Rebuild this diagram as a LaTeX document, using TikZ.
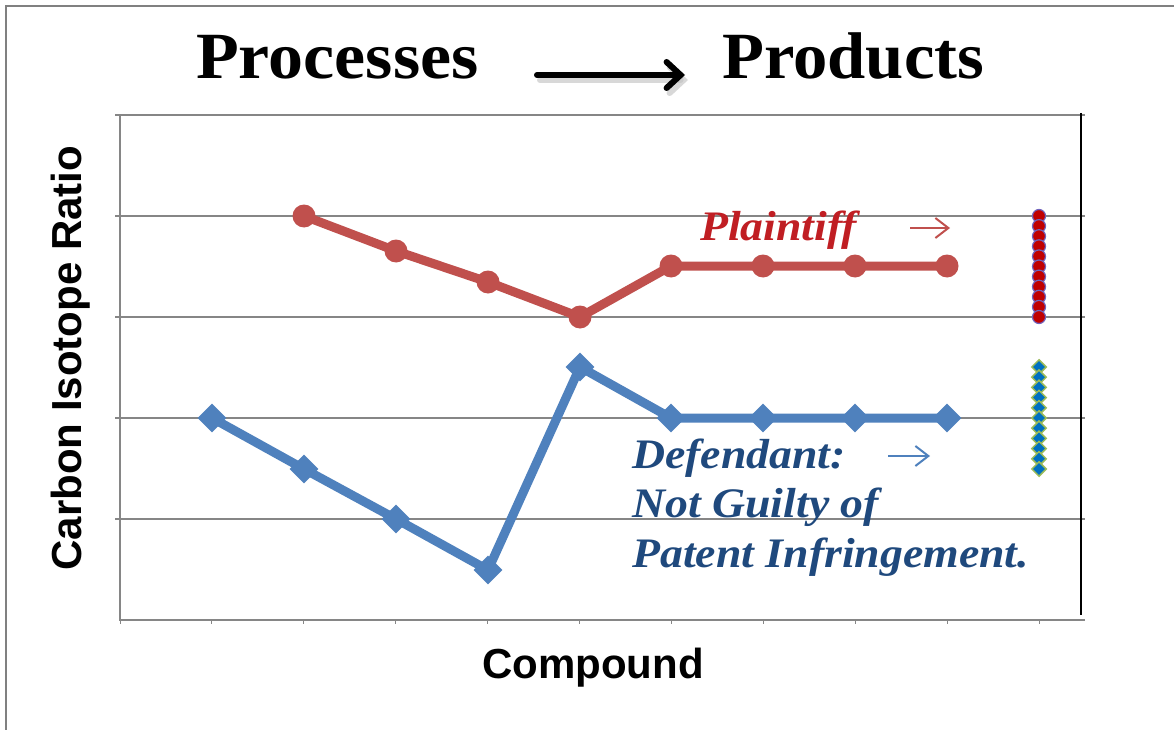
\documentclass[tikz,border=0pt]{standalone}
\usepackage{fontspec}
\usepackage{graphicx}
\setsansfont{Liberation Sans}
\newfontfamily\capfont{Liberation Serif}
\usetikzlibrary{arrows.meta,shapes.geometric}
\definecolor{serred}{RGB}{192,80,77}
\definecolor{serblue}{RGB}{79,129,189}
\definecolor{txtred}{RGB}{192,30,35}
\definecolor{txtblue}{RGB}{31,73,125}
\definecolor{gridgray}{RGB}{134,134,134}
\definecolor{dotred}{RGB}{192,0,0}
\definecolor{dotedge}{RGB}{112,100,190}
\definecolor{diablue}{RGB}{0,112,192}
\definecolor{diagreen}{RGB}{155,187,89}
\newcommand{\widetext}[2]{\scalebox{#1}[1]{#2}}
\tikzset{
  gridline/.style={draw=gridgray,line width=1.5pt},
  axisline/.style={draw=gridgray,line width=2pt},
  redline/.style={draw=serred,line width=9pt,line join=round},
  blueline/.style={draw=serblue,line width=9pt,line join=round},
  redmark/.style={circle,fill=serred,inner sep=0pt,minimum size=23pt},
  bluemark/.style={diamond,aspect=1,fill=serblue,inner sep=0pt,minimum width=29pt,minimum height=29pt},
  reddot/.style={circle,fill=dotred,draw=dotedge,line width=1.2pt,inner sep=0pt,minimum size=13pt},
  bluedia/.style={diamond,aspect=1,fill=diablue,draw=diagreen,line width=1.5pt,inner sep=0pt,minimum width=15pt,minimum height=15pt},
  titletext/.style={font=\fontsize{66}{66}\selectfont\capfont\bfseries,anchor=base west,inner sep=0pt},
  axislabel/.style={font=\fontsize{42}{42}\selectfont\sffamily\bfseries,anchor=base,inner sep=0pt},
  plainttext/.style={font=\fontsize{42}{42}\selectfont\capfont\bfseries\itshape,text=txtred,anchor=base west,inner sep=0pt},
  deftext/.style={font=\fontsize{42}{42}\selectfont\capfont\bfseries\itshape,text=txtblue,anchor=base west,inner sep=0pt},
}
\begin{document}
\begin{tikzpicture}[x=1pt,y=-1pt]
\useasboundingbox[fill=white] (0,0) rectangle (1174,730);
% outer frame
\draw[draw=gray,line width=2pt] (6,731) -- (6,6) -- (1175,6);
% title
\node[titletext] (proc) at (196,79) {\widetext{1.06}{Processes}};
\node[titletext] (prod) at (722,79) {\widetext{1.04}{Products}};
\coordinate (ta) at (537,75);
\coordinate (tb) at (685,75);
\draw[line width=6pt,black!25,opacity=0.6,line cap=round,-{Straight Barb[length=14pt,width=26pt,line cap=round]}] ([shift={(3,5)}]ta) -- ([shift={(3,5)}]tb);
\draw[line width=6pt,line cap=round,-{Straight Barb[length=14pt,width=26pt,line cap=round]}] (ta) -- (tb);
% grid
\foreach \yy in {115,216,317,418,519} {
  \draw[gridline] (120,\yy) -- (1085,\yy);
  \draw[gridline] (120,\yy) -- (115,\yy);
}
\draw[axisline] (120,115) -- (120,620) -- (1085,620);
\foreach \i in {0,...,10} \draw[gridline,line width=1pt] (120+91.9*\i,620) -- ++(0,4);
\draw[line width=2pt] (1081,113) -- (1081,615);
% plaintiff series
\foreach \n/\x/\y in {1/304/216,2/396/251,3/488/282,4/580/317,5/671/266,6/763/266,7/855/266,8/947/266}
  \coordinate (r\n) at (\x,\y);
\draw[redline] (r1) -- (r2) -- (r3) -- (r4) -- (r5) -- (r6) -- (r7) -- (r8);
\foreach \n in {1,...,8} \node[redmark] (rm\n) at (r\n) {};
% defendant series
\foreach \n/\x/\y in {1/212/418,2/304/469,3/396/519,4/488/570,5/580/367,6/671/418,7/763/418,8/855/418,9/947/418}
  \coordinate (b\n) at (\x,\y);
\draw[blueline] (b1) -- (b2) -- (b3) -- (b4) -- (b5) -- (b6) -- (b7) -- (b8) -- (b9);
\foreach \n in {1,...,9} \node[bluemark] (bm\n) at (b\n) {};
% product columns
\foreach \k in {0,...,10} \node[reddot] (pd\k) at (1039,216+10.1*\k) {};
\foreach \k in {0,...,10} \node[bluedia] (bd\k) at (1039,367+10.2*\k) {};
% labels
\node[axislabel,rotate=90] (ylab) at (81,358) {Carbon Isotope Ratio};
\node[axislabel] (xlab) at (593,678) {Compound};
\node[plainttext] (pl) at (700,240) {\widetext{1.09}{Plaintiff}};
\node[deftext] (d1) at (632,468) {\widetext{1.09}{Defendant:}};
\node[deftext] (d2) at (632,517) {\widetext{1.09}{Not Guilty of}};
\node[deftext] (d3) at (632,567) {\widetext{1.09}{Patent Infringement.}};
\coordinate (pa1) at (910,228); \coordinate (pa2) at (950,228);
\draw[serred,line width=2pt,-{Straight Barb[length=13pt,width=20pt]}] (pa1) -- (pa2);
\coordinate (ba1) at (888,456); \coordinate (ba2) at (930,456);
\draw[serblue,line width=2pt,-{Straight Barb[length=13pt,width=20pt]}] (ba1) -- (ba2);
\end{tikzpicture}
\end{document}
